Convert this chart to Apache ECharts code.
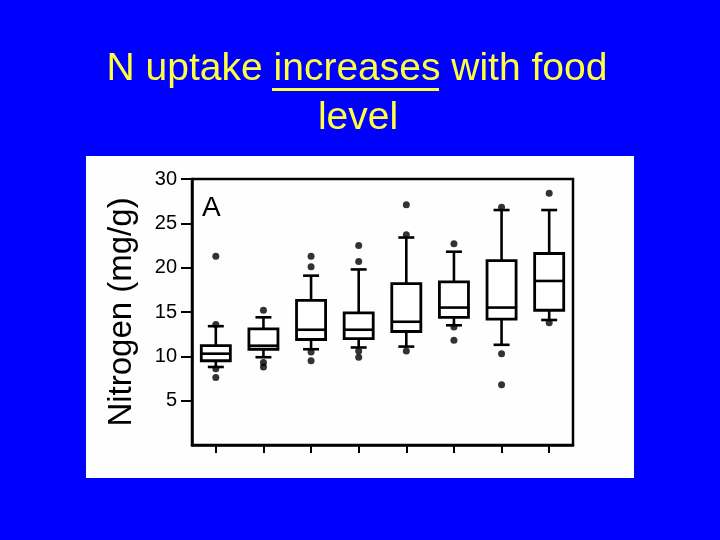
<!DOCTYPE html>
<html><head><meta charset="utf-8">
<script src="https://cdn.jsdelivr.net/npm/echarts@6/dist/echarts.min.js"></script>
<style>html,body{margin:0;padding:0;background:#0000fe;} #c{width:720px;height:540px;}</style>
</head><body><div id="c"></div>
<script>
// Food level groups (no labels shown on the original x axis)
const categories = ['1', '2', '3', '4', '5', '6', '7', '8'];
// Box plot statistics (Nitrogen, mg/g)
const whiskerLow  = [8.8, 9.9, 10.8, 11.0, 11.1, 13.5, 11.3, 14.1];
const q1          = [9.5, 10.8, 11.9, 12.0, 12.8, 14.4, 14.2, 15.2];
const median      = [10.3, 11.2, 13.0, 13.0, 13.9, 15.5, 15.5, 18.5];
const q3          = [11.2, 13.1, 16.3, 14.9, 18.2, 18.4, 20.8, 21.6];
const whiskerHigh = [13.4, 14.4, 19.1, 19.8, 23.4, 21.8, 26.5, 26.5];
// Outlier points: category index and value
const outlierCategory = [0, 0, 0, 0, 1, 1, 1, 2, 2, 2, 2, 3, 3, 3, 3, 4, 4, 4, 5, 5, 5, 6, 6, 6, 7, 7];
const outlierValue    = [21.3, 13.6, 8.6, 7.6, 15.2, 9.3, 8.8, 20.1, 21.3, 10.5, 9.5, 20.7, 22.5, 10.6, 9.9, 23.7, 27.1, 10.6, 22.7, 13.3, 11.8, 26.8, 10.3, 6.8, 28.4, 13.8];
const yTicks = [5, 10, 15, 20, 25, 30];
const titleLines = ['N uptake increases with food', 'level'];

const boxData = categories.map((c, i) => [i, whiskerLow[i], q1[i], median[i], q3[i], whiskerHigh[i]]);
const outlierData = outlierCategory.map((c, k) => [c, outlierValue[k]]);

function renderBox(params, api) {
  const i = api.value(0);
  const lo = api.coord([i, api.value(1)]);
  const b = api.coord([i, api.value(2)]);
  const m = api.coord([i, api.value(3)]);
  const t = api.coord([i, api.value(4)]);
  const hi = api.coord([i, api.value(5)]);
  const bw = api.size([1, 0])[0] * 0.61;
  const cw = bw * 0.55;
  const x = lo[0];
  const st = { stroke: '#000', lineWidth: 2.6, fill: null };
  return {
    type: 'group',
    children: [
      { type: 'line', shape: { x1: x, y1: lo[1], x2: x, y2: b[1] }, style: st },
      { type: 'line', shape: { x1: x, y1: t[1], x2: x, y2: hi[1] }, style: st },
      { type: 'line', shape: { x1: x - cw / 2, y1: lo[1], x2: x + cw / 2, y2: lo[1] }, style: st },
      { type: 'line', shape: { x1: x - cw / 2, y1: hi[1], x2: x + cw / 2, y2: hi[1] }, style: st },
      { type: 'rect', shape: { x: x - bw / 2, y: t[1], width: bw, height: b[1] - t[1] }, style: { stroke: '#000', lineWidth: 2.8, fill: '#fff' } },
      { type: 'line', shape: { x1: x - bw / 2, y1: m[1], x2: x + bw / 2, y2: m[1] }, style: st }
    ]
  };
}

const titleStyle = { fill: '#ffff40', fontSize: 39, fontFamily: 'Liberation Sans', align: 'center', verticalAlign: 'top' };

const chart = echarts.init(document.getElementById('c'), null, { renderer: 'canvas' });
chart.setOption({
  backgroundColor: '#0000fe',
  animation: false,
  graphic: [
    { type: 'rect', z: -100, shape: { x: 86, y: 156, width: 548, height: 322 }, style: { fill: '#fefefe' } },
    { type: 'text', z: 10, x: 357, y: 50, style: Object.assign({ text: titleLines[0] }, titleStyle) },
    { type: 'text', z: 10, x: 358, y: 99, style: Object.assign({ text: titleLines[1] }, titleStyle) },
    { type: 'rect', z: 10, shape: { x: 272, y: 88, width: 167, height: 3 }, style: { fill: '#ffff40' } },
    { type: 'text', z: 10, x: 202, y: 194, style: { text: 'A', fill: '#000', fontSize: 28, fontFamily: 'Liberation Sans', verticalAlign: 'top' } }
  ],
  grid: { left: 192, right: 147, top: 179, bottom: 95, show: true, borderColor: '#000', borderWidth: 2.5, backgroundColor: 'transparent' },
  xAxis: {
    type: 'category',
    data: categories,
    boundaryGap: true,
    axisLine: { show: true, lineStyle: { color: '#000', width: 2.5 } },
    axisTick: { show: true, alignWithLabel: true, length: 8, lineStyle: { color: '#000', width: 2 } },
    axisLabel: { show: false },
    splitLine: { show: false }
  },
  yAxis: {
    type: 'value',
    min: 0, max: 30, interval: 5,
    name: 'Nitrogen (mg/g)',
    nameLocation: 'middle',
    nameRotate: 90,
    nameGap: 54,
    nameTextStyle: { color: '#000', fontSize: 33, fontFamily: 'Liberation Sans' },
    axisLine: { show: true, lineStyle: { color: '#000', width: 2.5 } },
    axisTick: { show: true, length: 11, customValues: yTicks, lineStyle: { color: '#000', width: 2 } },
    axisLabel: { color: '#000', fontSize: 20, fontFamily: 'Liberation Sans', margin: 15, customValues: yTicks, formatter: v => (v === 0 ? '' : String(v)) },
    splitLine: { show: false }
  },
  series: [
    {
      type: 'custom',
      renderItem: renderBox,
      encode: { x: 0, y: [1, 2, 3, 4, 5] },
      data: boxData,
      z: 3
    },
    {
      type: 'scatter',
      data: outlierData,
      symbol: 'circle',
      symbolSize: 7,
      itemStyle: { color: '#000' },
      z: 5
    }
  ]
});
</script>
</body></html>
